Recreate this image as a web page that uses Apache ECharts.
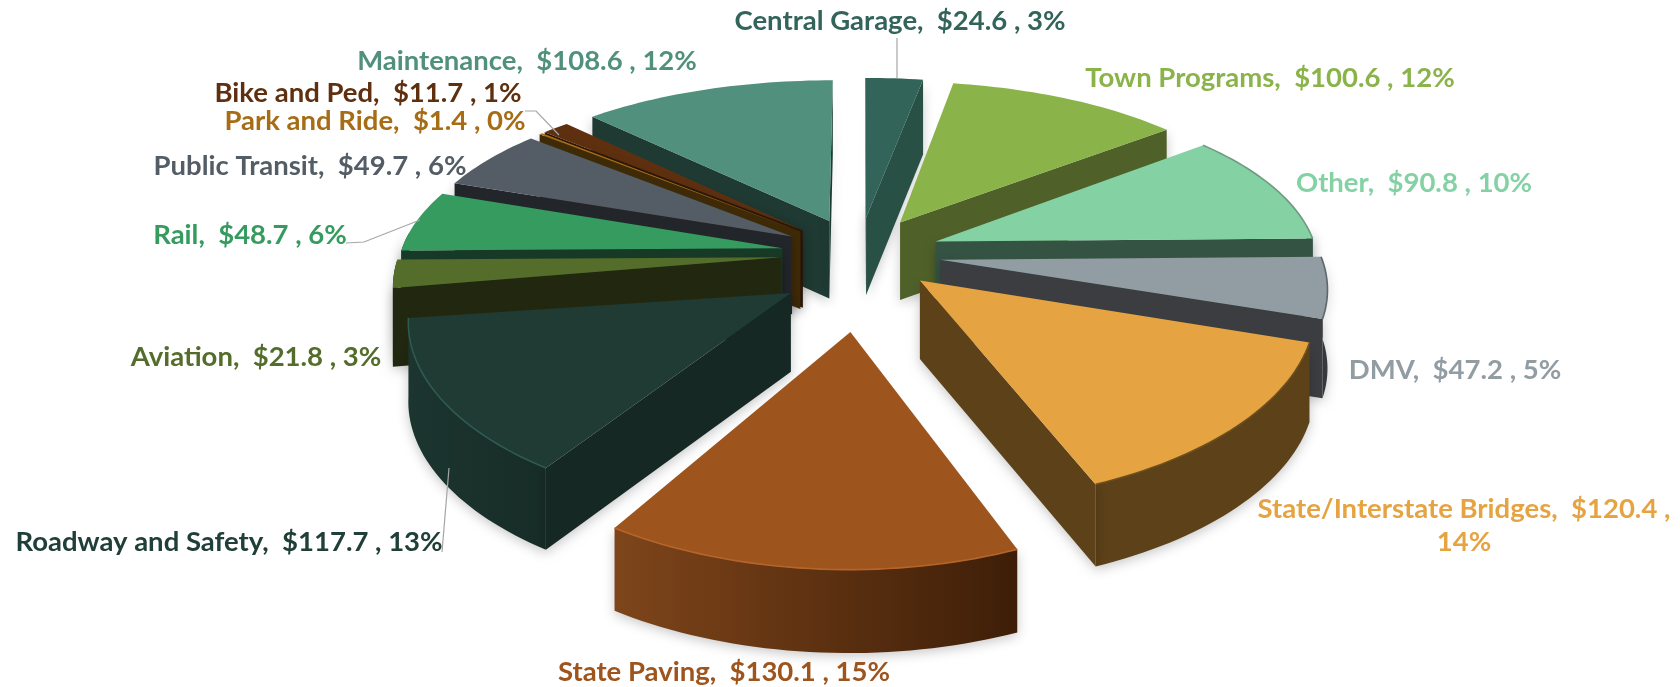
<!DOCTYPE html>
<html lang="en">

<head>
  <meta charset="UTF-8" />
  <title>Transportation Spending</title>
  <script src="https://cdn.jsdelivr.net/npm/echarts@6/dist/echarts.min.js"></script>
  <style>
    html, body { margin: 0; background: #fff; }
    #chart { width: 1680px; height: 687px; }
  </style>
</head>

<body>
  <div id="chart"></div>

  <script>
    // data, clockwise from 12 o'clock
    const categories = ['Central Garage', 'Town Programs', 'Other', 'DMV', 'State/Interstate Bridges', 'State Paving',
      'Roadway and Safety', 'Aviation', 'Rail', 'Public Transit', 'Park and Ride', 'Bike and Ped', 'Maintenance'];
    const amounts = [24.6, 100.6, 90.8, 47.2, 120.4, 130.1, 117.7, 21.8, 48.7, 49.7, 1.4, 11.7, 108.6];
    const percents = [3, 12, 10, 5, 14, 15, 13, 3, 6, 6, 0, 1, 12];

    // colours
    const topColors = ['#33645a', '#8ab34a', '#84d2a4', '#929ca3', '#e5a441', '#9e541d', '#203a34', '#546d2b', '#359b5f', '#545d65', '#a66d16', '#5f3010', '#50907d'];
    const sideColors = ['#285045', '#4f6129', '#345343', '#3c3d41', '#5c4119', '#5a2c10', '#152823', '#22280f', '#173a26', '#22262a', '#3f2a08', '#2f1808', '#1f3a33'];
    const wallLeft = ['#285045', '#4f6129', '#345343', '#3c3d41', '#5c4119', '#7e451a', '#1c352f', '#22280f', '#173a26', '#22262a', '#3f2a08', '#2f1808', '#1f3a33'];
    const wallRight = ['#285045', '#4f6129', '#345343', '#3c3d41', '#5c4119', '#3e1e08', '#172c27', '#22280f', '#173a26', '#22262a', '#3f2a08', '#2f1808', '#1f3a33'];
    const rimColors = [null, null, '#6c9c7f', '#5f666c', '#6e4f1e', '#b5652a', '#2f5a4f', null, null, null, null, null, null];
    const labelColors = ['#33645a', '#8ab34a', '#84d2a4', '#929ca3', '#e5a441', '#9e541d', '#203f38', '#546d2b', '#359b5f', '#545d65', '#a66d16', '#5f3010', '#50907d'];

    // how far each slice is pulled out of the pie, how much that pull is turned (degrees),
    // how much the whole slice is turned (degrees), and its radius factor
    const explode = [82, 82, 82, 82, 82, 158, 105, 78, 78, 78, 78, 78, 80];
    const explodeTurn = [0, 0, 0, 0, 0, -2, -17, 0, 0, 0, 0, 0, 0];
    const sliceTurn = [0, 0, 0, 0, 0, 0, 2, 0, 0, 0, 0, 0, 0];
    const reach = [1, 1, 1, 0.995, 1, 0.97, 0.96, 1, 1, 1, 1, 1, 1];

    // label anchors and leader lines
    const labelAnchors = [[900, 21], [1270, 78], [1414, 183], [1455, 370], [1464, 526], [724, 672], [229, 542], [256, 357], [250, 235], [310, 166], [375, 121], [368, 93], [527, 61]];
    const leaders = [
      [[897, 38], [897, 78]],
      [[525, 111], [536, 111], [559, 135]],
      [[346, 243], [364, 242], [420, 220]],
      [[442, 552], [449, 468]]
    ];

    // camera
    const cx = 859, cy = 254, radius = 382, tilt = 0.46, camDist = 2800, depth = 78;
    const total = amounts.reduce((a, b) => a + b, 0);

    const startAngles = [];
    amounts.reduce((acc, v, i) => { startAngles[i] = acc; return acc + v; }, 0);

    function project(X, Y, z) {
      const s = camDist / (camDist - Y);
      return [cx + X * s, cy + Y * tilt * Math.pow(s, 1.25) + z * (1 + (s - 1) * 0.3)];
    }

    function sliceShapes(i) {
      const turn = sliceTurn[i] * Math.PI / 180;
      const a0 = startAngles[i] / total * Math.PI * 2 + turn;
      const a1 = (startAngles[i] + amounts[i]) / total * Math.PI * 2 + turn;
      const mid = (a0 + a1) / 2;
      const pull = mid - turn + explodeTurn[i] * Math.PI / 180;
      const ox = Math.sin(pull) * explode[i];
      const oy = -Math.cos(pull) * explode[i];
      const r = radius * reach[i];
      const pt = (a, z) => project(ox + Math.sin(a) * r, oy - Math.cos(a) * r, z);
      const apex = z => project(ox, oy, z);

      const arc = (from, to, z) => {
        const pts = [];
        const n = Math.max(2, Math.ceil((to - from) * 40));
        for (let k = 0; k <= n; k++) pts.push(pt(from + (to - from) * k / n, z));
        return pts;
      };

      // z2 goes up from the back of the pie to the front
      const z2 = 10 + Math.round((-Math.cos(mid) + 1) * 200);
      const children = [];
      const shadow = { shadowBlur: 12, shadowColor: 'rgba(0,0,0,0.22)', shadowOffsetY: 3 };

      // outer wall, only the part that faces the camera
      const w0 = Math.max(a0, Math.PI * 0.47);
      const w1 = Math.min(a1, Math.PI * 1.53);
      if (w1 > w0) {
        const lower = arc(w0, w1, depth);
        const upper = arc(w0, w1, 0).reverse();
        children.push({
          type: 'polygon', silent: true, z2: z2,
          shape: { points: lower.concat(upper) },
          style: Object.assign({
            fill: new echarts.graphic.LinearGradient(0, 0, 1, 0, [
              { offset: 0, color: wallLeft[i] }, { offset: 1, color: wallRight[i] }
            ])
          }, shadow)
        });
      }

      // radial walls, only the ones turned to the camera
      [[a0, -1], [a1, 1]].forEach(([a, side]) => {
        if (side * Math.sin(a) > -0.02) {
          children.push({
            type: 'polygon', silent: true, z2: z2 + 1,
            shape: { points: [apex(0), pt(a, 0), pt(a, depth), apex(depth)] },
            style: Object.assign({ fill: sideColors[i] }, shadow)
          });
        }
      });

      // top face
      const rim = arc(a0, a1, 0);
      children.push({
        type: 'polygon', silent: true, z2: z2 + 2,
        shape: { points: [apex(0)].concat(rim) },
        style: { fill: topColors[i] }
      });
      if (rimColors[i]) {
        children.push({
          type: 'polyline', silent: true, z2: z2 + 3,
          shape: { points: rim },
          style: { fill: null, stroke: rimColors[i], lineWidth: 1.6 }
        });
      }
      return { type: 'group', children: children };
    }

    const chart = echarts.init(document.getElementById('chart'), null, { renderer: 'canvas' });

    const labelGraphics = categories.map((name, i) => ({
      type: 'text',
      silent: true,
      z: 10,
      x: labelAnchors[i][0],
      y: labelAnchors[i][1],
      style: {
        text: i === 4
          ? `${name},  $${amounts[i]} ,\n${percents[i]}%`
          : `${name},  $${amounts[i].toFixed(1)} , ${percents[i]}%`,
        fill: labelColors[i],
        font: 'bold 27.5px Lato, sans-serif',
        align: 'center',
        verticalAlign: 'middle',
        lineHeight: 33
      }
    }));

    const leaderGraphics = leaders.map(points => ({
      type: 'polyline',
      silent: true,
      z: 9,
      shape: { points: points },
      style: { fill: null, stroke: '#a6a6a6', lineWidth: 1.2 }
    }));

    chart.setOption({
      animation: false,
      backgroundColor: '#ffffff',
      graphic: labelGraphics.concat(leaderGraphics),
      series: [{
        type: 'custom',
        coordinateSystem: 'none',
        silent: true,
        data: categories.map((c, i) => [i, amounts[i]]),
        renderItem: params => sliceShapes(params.dataIndex)
      }]
    });
  </script>
</body>

</html>
